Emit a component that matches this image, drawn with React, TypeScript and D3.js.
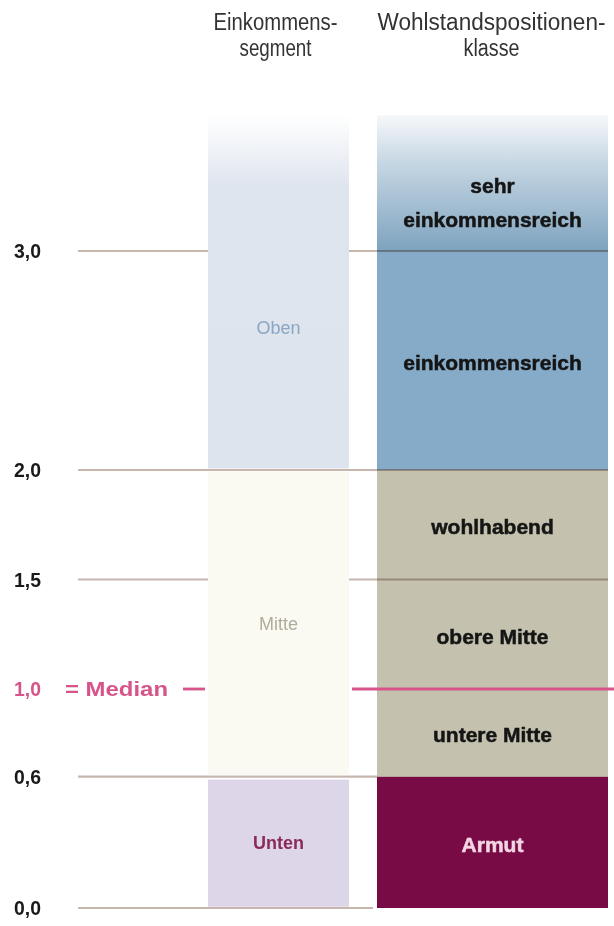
import React from 'react';
import * as d3 from 'd3';

// ---- data ----
const tickValues = [0, 0.6, 1.0, 1.5, 2.0, 3.0];
const tickLabels = ['0,0', '0,6', '1,0', '1,5', '2,0', '3,0'];
const medianValue = 1.0;
const medianLabel = '= Median';

const segmentNames = ['Unten', 'Mitte', 'Oben'];
const segmentFrom = [0, 0.6, 2.0];
const segmentTo = [0.6, 2.0, 3.62];

const classNames = ['Armut', 'untere Mitte', 'obere Mitte', 'wohlhabend', 'einkommensreich', 'sehr einkommensreich'];
const classFrom = [0, 0.6, 1.0, 1.5, 2.0, 3.0];
const classTo = [0.6, 1.0, 1.5, 2.0, 3.0, 3.62];

const headerSegment = ['Einkommens-', 'segment'];
const headerClass = ['Wohlstandspositionen-', 'klasse'];

// ---- styles ----
const segFill = ['#dcd6e8', '#fbfaf2', 'url(#gradOben)'];
const segText = ['#8b2b5a', '#b0ab9b', '#8aa6c3'];
const segWeight = [700, 400, 400];
const classFill = ['#780b45', '#c4c2ae', '#c4c2ae', '#c4c2ae', '#86abc8', 'url(#gradSehr)'];
const classText = ['#f3d6e2', '#151515', '#151515', '#151515', '#151515', '#151515'];
const gridColor = '#c6b6ae';
const pink = '#d6548a';
const sans = "'Liberation Sans', Arial, sans-serif";

// rendered width of each header line (condensed face emulated)
const headerSegmentW = [124, 72];
const headerClassW = [228, 56];

export default function App() {
  const y = d3.scaleLinear().domain([0, 3]).range([908, 251]);
  const x = d3.scaleOrdinal<string, number>().domain(['axis', 'seg', 'cls', 'end']).range([78, 208, 377, 608]);
  const segX0 = x('seg');
  const segX1 = 349;
  const clsX0 = x('cls');
  const clsX1 = x('end');
  const segCx = (segX0 + segX1) / 2;
  const clsCx = (clsX0 + clsX1) / 2;

  return (
    <svg width={614} height={926} style={{ position: 'absolute', left: 0, top: 0, background: '#fff' }}>
      <defs>
        <linearGradient id="gradOben" x1="0" y1="0" x2="0" y2="1">
          <stop offset="0" stopColor="#ffffff" />
          <stop offset="0.2" stopColor="#dfe5ee" />
          <stop offset="1" stopColor="#dde4ee" />
        </linearGradient>
        <linearGradient id="gradSehr" x1="0" y1="0" x2="0" y2="1">
          <stop offset="0" stopColor="#f6f8fa" />
          <stop offset="0.35" stopColor="#c6d7e3" />
          <stop offset="1" stopColor="#7ea3bf" />
        </linearGradient>
      </defs>

      {/* headers */}
      <g fontFamily={sans} fontSize={23} fill="#333" textAnchor="middle">
        {headerSegment.map((t, i) => (
          <text key={'hs' + i} x={segCx - 3} y={30 + i * 26} textLength={headerSegmentW[i]} lengthAdjust="spacingAndGlyphs">{t}</text>
        ))}
        {headerClass.map((t, i) => (
          <text key={'hc' + i} x={clsCx - 1} y={30 + i * 26} textLength={headerClassW[i]} lengthAdjust="spacingAndGlyphs">{t}</text>
        ))}
      </g>

      {/* grid lines */}
      <g stroke={gridColor} strokeWidth={2.2}>
        {tickValues.filter(v => v !== medianValue).map(v => (
          <line key={'g' + v} x1={x('axis')} x2={v === 0 ? clsX0 - 4 : clsX1} y1={y(v)} y2={y(v)} />
        ))}
      </g>

      {/* segment column */}
      {segmentNames.map((n, i) => {
        const top = y(segmentTo[i]) + (i === 2 ? 0 : i === 0 ? 3 : 1.5);
        const bot = y(segmentFrom[i]) - (i === 0 ? 1.2 : 1.5);
        return <rect key={'s' + n} x={segX0} width={segX1 - segX0} y={top} height={bot - top} fill={segFill[i]} />;
      })}

      {/* class column */}
      {classNames.map((n, i) => (
        <rect key={'c' + n} x={clsX0} width={clsX1 - clsX0} y={y(classTo[i])} height={y(classFrom[i]) - y(classTo[i])} fill={classFill[i]} />
      ))}

      {/* boundary lines inside class column */}
      <g stroke={gridColor} strokeWidth={2.2} style={{ mixBlendMode: 'multiply' }}>
        {classFrom.filter(v => v > 0.6 && v !== medianValue).map(v => (
          <line key={'b' + v} x1={clsX0} x2={clsX1} y1={y(v)} y2={y(v)} />
        ))}
      </g>

      {/* median line */}
      <line x1={segX1 + 3} x2={614} y1={y(medianValue)} y2={y(medianValue)} stroke={pink} strokeWidth={2.8} />
      <line x1={183} x2={205} y1={y(medianValue)} y2={y(medianValue)} stroke={pink} strokeWidth={2.8} />

      {/* tick labels */}
      <g fontFamily={sans} fontWeight={700} fontSize={21}>
        {tickValues.map((v, i) => (
          <text key={'t' + v} x={14} y={y(v)} dy="0.35em" fill={v === medianValue ? pink : '#1a1a1a'}
            textLength={27} lengthAdjust="spacingAndGlyphs">{tickLabels[i]}</text>
        ))}
        <text x={65} y={y(medianValue)} dy="0.35em" fill={pink} fontSize={21}
          textLength={103} lengthAdjust="spacingAndGlyphs">{medianLabel}</text>
      </g>

      {/* segment labels */}
      {segmentNames.map((n, i) => {
        const top = Math.min(segmentTo[i], 3.3);
        return (
          <text key={'sl' + n} x={segCx} y={y((segmentFrom[i] + top) / 2)} dy="0.35em" textAnchor="middle"
            fontFamily={sans} fontSize={18} fontWeight={segWeight[i]} fill={segText[i]}>{n}</text>
        );
      })}

      {/* class labels */}
      {classNames.map((n, i) => {
        const words = i === 5 ? ['sehr', 'einkommensreich'] : [n];
        const cy = i === 5 ? y(3.22) : y((classFrom[i] + classTo[i]) / 2) + 2;
        return (
          <text key={'cl' + n} x={clsCx} y={cy} textAnchor="middle" fontFamily={sans} fontSize={21} fontWeight={700}
            fill={classText[i]} stroke={classText[i]} strokeWidth={0.5}>
            {words.map((w, j) => (
              <tspan key={j} x={clsCx} y={cy + (j - (words.length - 1) / 2) * 34} dy="0.35em">{w}</tspan>
            ))}
          </text>
        );
      })}
    </svg>
  );
}
